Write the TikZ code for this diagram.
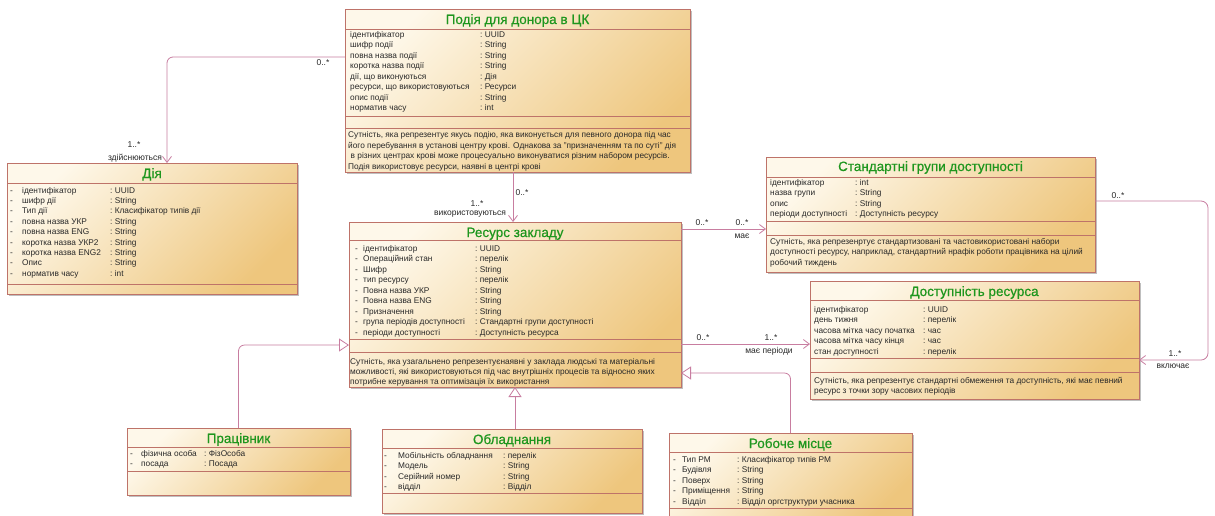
\documentclass[tikz,border=0pt]{standalone}
\usepackage{fontspec}
\setmainfont{Liberation Sans}
\newfontfamily\classnamefont[FakeBold=0.6]{Liberation Sans}
\usetikzlibrary{arrows.meta,shadows}

\definecolor{boxlight}{RGB}{254,248,234}
\definecolor{boxdark}{RGB}{238,198,125}
\definecolor{boxline}{RGB}{190,115,105}
\definecolor{linkcol}{RGB}{200,125,160}
\definecolor{titlecol}{RGB}{30,150,30}
\definecolor{txtcol}{RGB}{40,40,40}

\tikzset{
  umlclass/.style={draw=boxline, line width=0.9pt, top color=boxlight,
    bottom color=boxdark, shading angle=45, anchor=north west,
    inner sep=0pt, outer sep=0pt,
    general shadow={shadow xshift=1.5pt, shadow yshift=-1.5pt, fill=black!25}},
  seprule/.style={draw=boxline, line width=0.8pt},
  ctitle/.style={anchor=base, inner sep=0pt, text=titlecol,
    font=\classnamefont\fontsize{13.5}{15}\selectfont},
  attrtxt/.style={anchor=base west, inner sep=0pt, text=txtcol,
    font=\fontsize{8.3}{10}\selectfont},
  lbl/.style={anchor=base, inner sep=0pt, text=txtcol,
    font=\fontsize{8.5}{10}\selectfont},
  assoc/.style={draw=linkcol, line width=0.8pt,
    -{Straight Barb[length=6pt,width=9pt,line width=0.8pt]}},
  gen/.style={draw=linkcol, line width=0.8pt,
    -{Triangle[length=10pt,width=13pt,line width=0.8pt,fill=white]}},
}

% attribute rows: prefix, dash x (empty = none), name x, type x, first baseline, step, list
\newcommand\umlrows[7]{%
  \foreach \nm/\ty [count=\k] in {#7}{%
    \pgfmathsetmacro\yy{#5+(\k-1)*#6}%
    \if\relax\detokenize{#2}\relax\else
      \node[attrtxt] (#1-d\k) at (#2,\yy) {-};
    \fi
    \node[attrtxt] (#1-n\k) at (#3,\yy) {\nm};
    \node[attrtxt] (#1-t\k) at (#4,\yy) {:\ \ty};
  }}
% description lines: prefix, x, first baseline, step, lines
\newcommand\umldesc[5]{%
  \foreach \ln [count=\k] in {#5}{%
    \pgfmathsetmacro\yy{#3+(\k-1)*#4}%
    \node[attrtxt] (#1-l\k) at (#2,\yy) {\ln};
  }}
% compartment separator
\newcommand\compsep[2]{\draw[seprule] (#1.west |- 0,#2) -- (#1.east |- 0,#2);}

\begin{document}
\begin{tikzpicture}[x=1pt,y=-1pt]
\useasboundingbox (0,0) rectangle (1215,515);
\fill[white] (0,0) rectangle (1215,515);
\clip (0,0) rectangle (1215,515);

% class boxes
\node[umlclass, minimum width=345pt, minimum height=163pt] (P) at (345,9) {};
\node[umlclass, minimum width=290pt, minimum height=131pt] (D) at (7,163) {};
\node[umlclass, minimum width=332pt, minimum height=165pt] (R) at (349,222) {};
\node[umlclass, minimum width=329pt, minimum height=115pt] (S) at (766,157) {};
\node[umlclass, minimum width=329pt, minimum height=118pt] (A) at (810,281) {};
\node[umlclass, minimum width=223pt, minimum height=67pt] (W) at (127,428) {};
\node[umlclass, minimum width=260pt, minimum height=84pt] (O) at (382,429) {};
\node[umlclass, minimum width=243pt, minimum height=95pt] (M) at (669,433) {};

% compartments
\compsep{P}{29} \compsep{P}{116} \compsep{P}{128}
\compsep{D}{183} \compsep{D}{284}
\compsep{R}{240} \compsep{R}{339} \compsep{R}{352}
\compsep{S}{177} \compsep{S}{221} \compsep{S}{235}
\compsep{A}{300} \compsep{A}{358} \compsep{A}{372}
\compsep{W}{447} \compsep{W}{471}
\compsep{O}{448} \compsep{O}{493}
\compsep{M}{452} \compsep{M}{508}

% class names
\node[ctitle] (P-title) at (P.north |- 0,24) {Подія для донора в ЦК};
\node[ctitle] (D-title) at (D.north |- 0,178) {Дія};
\node[ctitle] (R-title) at (R.north |- 0,237) {Ресурс закладу};
\node[ctitle] (S-title) at (S.north |- 0,171) {Стандартні групи доступності};
\node[ctitle] (A-title) at (A.north |- 0,296) {Доступність ресурса};
\node[ctitle] (W-title) at (W.north |- 0,443) {Працівник};
\node[ctitle] (O-title) at (O.north |- 0,444) {Обладнання};
\node[ctitle] (M-title) at (M.north |- 0,448) {Робоче місце};

% attributes
\umlrows{P}{}{350}{480}{37}{10.5}{ідентифікатор/UUID, шифр події/String,
  повна назва події/String, коротка назва події/String,
  {дії, що виконуються}/Дія, {ресурси, що використовуються}/Ресурси,
  опис події/String, норматив часу/int}
\umlrows{D}{10}{22}{110}{193}{10.4}{ідентифікатор/UUID, шифр дії/String,
  Тип дії/Класифікатор типів дії, повна назва УКР/String,
  повна назва ENG/String, коротка назва УКР2/String,
  коротка назва ENG2/String, Опис/String, норматив часу/int}
\umlrows{R}{355}{363}{475}{251}{10.5}{ідентифікатор/UUID,
  Операційний стан/перелік, Шифр/String, тип ресурсу/перелік,
  Повна назва УКР/String, Повна назва ENG/String, Призначення/String,
  група періодів доступності/Стандартні групи доступності,
  періоди доступності/Доступність ресурса}
\umlrows{S}{}{770}{855}{185}{10.5}{ідентифікатор/int, назва групи/String,
  опис/String, періоди доступності/Доступність ресурсу}
\umlrows{A}{}{814}{923}{312}{10.5}{ідентифікатор/UUID, день тижня/перелік,
  часова мітка часу початка/час, часова мітка часу кінця/час,
  стан доступності/перелік}
\umlrows{W}{130}{141}{204}{456}{10.5}{фізична особа/ФізОсоба, посада/Посада}
\umlrows{O}{384}{398}{503}{458}{10.5}{Мобільність обладнання/перелік,
  Модель/String, Серійний номер/String, відділ/Відділ}
\umlrows{M}{673}{682}{737}{462}{10.5}{Тип РМ/Класифікатор типів РМ,
  Будівля/String, Поверх/String, Приміщення/String,
  Відділ/Відділ оргструктури учасника}

% notes (the last line of the first note runs under the frame)
\begin{scope}
  \clip (P.west |- 0,128) rectangle (P.east |- 0,170.5);
  \umldesc{P}{348}{137.5}{10.6}{%
    {Сутність, яка репрезентує якусь подію, яка виконується для певного донора під час},
    {його перебування в установі центру крові. Однакова за "призначенням та по суті" дія},
    {\kern2.5pt в різних центрах крові може процесуально виконуватися різним набором ресурсів.},
    {Подія використовує ресурси, наявні в центрі крові}}
\end{scope}
\umldesc{R}{350}{364}{10.3}{%
  {Сутність, яка узагальнено репрезентуєнаявні у заклада людські та матеріальні},
  {можливості, які використовуються під час внутрішніх процесів та відносно яких},
  {потрибне керування та оптимізація їх використання}}
\umldesc{S}{770}{244}{10.5}{%
  {Сутність, яка репрезенртує стандартизовані та частовикористовані набори},
  {доступності ресурсу, наприклад, стандартний нрафік роботи працівника на цілий},
  {робочий тиждень}}
\umldesc{A}{814}{383}{10.5}{%
  {Сутність, яка репрезентує стандартні обмеження та доступність, які має певний},
  {ресурс з точки зору часових періодів}}

% associations
\draw[assoc, rounded corners=6pt] (P.west |- 0,57) -| ([xshift=160pt]D.north west);
\draw[assoc] (513,0 |- P.south) -- (513,0 |- R.north);
\draw[assoc] (R.east |- 0,229) -- (S.west |- 0,229);
\draw[assoc] (R.east |- 0,344) -- (A.west |- 0,344);
\draw[assoc, rounded corners=7pt] (S.east |- 0,201) -- (1208,201) -- (1208,360) -- (A.east |- 0,360);

% generalizations
\draw[gen, rounded corners=6pt] (W.north) |- (R.west |- 0,345);
\draw[gen] (O.north -| R.south) -- (R.south);
\draw[gen, rounded corners=6pt] (M.north) |- (R.east |- 0,373);

% multiplicities and role names
\node[lbl] (lPD1) at (323,65) {0..*};
\node[lbl] (lPD2) at (134,147) {1..*};
\node[lbl] (lPD3) at (135,160) {здійснюються};
\node[lbl] (lPR1) at (522,195) {0..*};
\node[lbl] (lPR2) at (477,206) {1..*};
\node[lbl] (lPR3) at (470,215) {використовуються};
\node[lbl] (lRS1) at (702,225) {0..*};
\node[lbl] (lRS2) at (742,225) {0..*};
\node[lbl] (lRS3) at (742,238) {має};
\node[lbl] (lRA1) at (703,340) {0..*};
\node[lbl] (lRA2) at (771,340) {1..*};
\node[lbl] (lRA3) at (769,353) {має періоди};
\node[lbl] (lSA1) at (1118,198) {0..*};
\node[lbl] (lSA2) at (1175,356) {1..*};
\node[lbl] (lSA3) at (1173,368) {включає};
\end{tikzpicture}
\end{document}
